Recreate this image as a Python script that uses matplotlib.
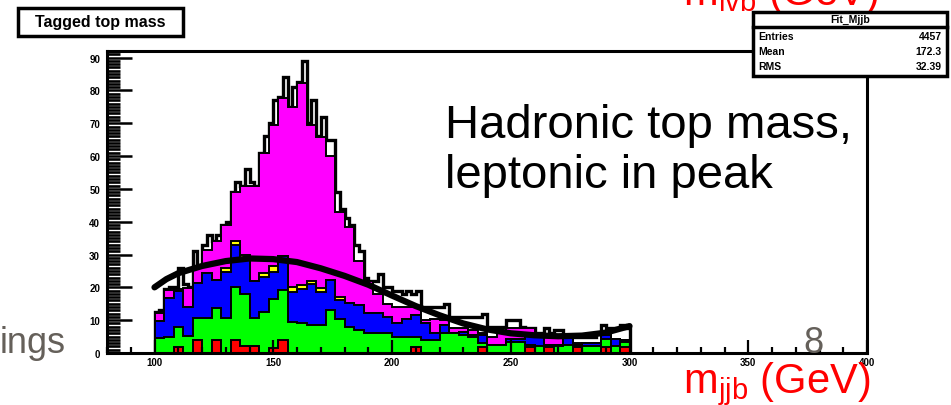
import numpy as np
import matplotlib.pyplot as plt
from matplotlib.patches import Rectangle
from matplotlib.ticker import MultipleLocator

plt.rcParams['font.family'] = ['Liberation Sans', 'DejaVu Sans']
plt.rcParams['mathtext.fontset'] = 'custom'
plt.rcParams['mathtext.rm'] = 'Liberation Sans'

# 4 GeV bins from 100 to 300, cumulative layers (each includes the ones below)
red = [0, 0, 1.9, 0, 3.9, 0, 3.9, 0, 3.9, 2.0,
       2.0, 0, 1.5, 3.9, 0, 0, 0, 0, 0, 0,
       0, 0, 0, 0, 0, 0, 0, 1.9, 0, 0,
       0, 0, 0, 0, 1.9, 0, 0, 0, 0, 1.9,
       0, 1.9, 0, 0, 1.9, 0, 0, 1.9, 0, 1.9]
green = [4.5, 5.0, 8.0, 5.3, 10.8, 10.8, 13.6, 10.6, 20.2, 18.0,
         10.6, 12.5, 16.5, 19.2, 9.5, 9.0, 8.5, 8.5, 13.0, 10.5,
         8.0, 7.0, 6.0, 6.0, 6.0, 5.0, 5.0, 5.0, 4.0, 4.0,
         6.0, 6.0, 5.5, 5.0, 3.0, 2.5, 2.5, 3.5, 3.5, 2.5,
         2.0, 2.0, 2.0, 2.5, 2.0, 2.2, 2.2, 4.4, 2.0, 3.5]
blue = [9.6, 16.7, 19.0, 14.1, 21.3, 24.3, 22.3, 24.8, 32.8, 28.9,
        22.0, 23.3, 24.6, 29.4, 18.5, 19.5, 21.0, 18.7, 22.3, 16.0,
        15.2, 14.7, 12.2, 12.2, 11.1, 9.1, 10.5, 11.6, 9.1, 6.0,
        8.6, 6.0, 6.5, 5.5, 5.5, 2.5, 2.5, 4.4, 4.4, 5.5,
        5.5, 2.4, 2.4, 4.9, 2.4, 2.9, 2.9, 5.5, 4.2, 4.0]
yellow = [9.6, 16.7, 19.0, 14.1, 21.3, 24.3, 22.3, 25.8, 34.0, 29.9,
          22.0, 24.3, 26.6, 29.4, 20.2, 20.7, 22.0, 19.7, 22.3, 17.2,
          15.2, 14.7, 12.2, 12.2, 11.1, 9.1, 10.5, 11.6, 9.1, 6.0,
          8.6, 6.0, 6.5, 5.5, 5.5, 2.5, 2.5, 4.4, 4.4, 5.5,
          5.5, 2.4, 2.4, 4.9, 2.4, 2.9, 2.9, 5.5, 4.2, 4.0]
magenta = [12.1, 19.2, 19.5, 19.7, 26.0, 31.4, 34.0, 39.0, 49.0, 51.0,
           51.0, 61.0, 69.5, 77.6, 75.0, 82.2, 69.5, 65.9, 60.0, 43.0,
           38.5, 28.0, 22.0, 18.0, 15.0, 14.0, 14.0, 14.0, 10.0, 10.5,
           10.0, 7.5, 7.5, 7.0, 6.0, 5.0, 6.0, 7.5, 7.5, 7.5,
           6.0, 5.0, 4.5, 5.0, 3.0, 3.0, 3.0, 5.5, 4.2, 4.0]

# total, 2 GeV bins from 100 to 300
total = [12.5, 13, 19.5, 20, 20, 26, 21, 20, 31, 26,
         33, 36, 34, 36, 39, 40, 49, 52, 51, 56,
         52, 51, 61, 66, 70, 77, 78, 84, 75, 81,
         82.5, 89, 70, 77, 66, 72, 65, 65, 49, 44,
         41, 39, 33, 31, 23, 22, 22, 24, 20, 20,
         19, 19, 18, 19, 18, 19, 14, 14, 14, 14,
         14, 15, 11, 11, 11, 11, 11, 11, 11, 12,
         8, 8, 8, 8, 10, 10, 10, 8, 7.5, 7.5,
         6, 6, 7.5, 6, 7, 7, 5, 5, 5, 5,
         5, 5, 5, 6, 8.5, 7.5, 7.5, 7.5, 8.5, 7.5]

# background fit curve
fit_x = [100, 105, 110, 120, 130, 140, 150, 160, 170, 180, 190,
         200, 210, 220, 230, 240, 250, 260, 270, 280, 290, 300]
fit_y = [20.0, 22.5, 24.3, 26.5, 28.0, 28.8, 28.6, 27.7, 25.8, 23.5, 20.8,
         17.5, 14.3, 11.5, 9.0, 7.2, 6.0, 5.4, 5.1, 5.3, 6.2, 8.2]

stats = [("Entries", "4457"), ("Mean", "172.3"), ("RMS", "32.39")]

W, H = 951, 406
fig = plt.figure(figsize=(W / 100, H / 100), dpi=100)
ax = fig.add_axes([107 / W, 1 - 354 / H, 760 / W, 302 / H])

edges4 = np.linspace(100, 300, len(magenta) + 1)
edges2 = np.linspace(100, 300, len(total) + 1)

ax.stairs(total, edges2, baseline=0, color='black', lw=2.4)
for vals, col in [(magenta, '#ff00ff'), (yellow, '#ffff00'), (blue, '#0000ff'),
                  (green, '#00ff00'), (red, '#ff0000')]:
    ax.stairs(vals, edges4, baseline=0, fill=True, facecolor=col,
              edgecolor='black', lw=1.4)
ax.plot(fit_x, fit_y, color='black', lw=4.5, solid_capstyle='round')

ax.set_xlim(80, 400)
ax.set_ylim(0, 92)
ax.xaxis.set_major_locator(MultipleLocator(50))
ax.xaxis.set_minor_locator(MultipleLocator(10))
ax.yaxis.set_major_locator(MultipleLocator(10))
ax.yaxis.set_minor_locator(MultipleLocator(1))
ax.tick_params(axis='x', which='major', direction='in', length=9.5, width=1.6,
               labelsize=7, pad=3)
ax.tick_params(axis='x', which='minor', direction='in', length=4.5, width=1.6)
ax.tick_params(axis='y', which='major', direction='in', length=18, width=1.8,
               labelsize=7, pad=5)
ax.tick_params(axis='y', which='minor', direction='in', length=9, width=1.9)
for lbl in ax.get_xticklabels() + ax.get_yticklabels():
    lbl.set_fontweight('bold')
for s in ax.spines.values():
    s.set_linewidth(2.2)

# ROOT title box
fig.add_artist(Rectangle((18 / W, 1 - 37 / H), 165 / W, 28 / H, transform=fig.transFigure,
                         facecolor='white', edgecolor='black', lw=2.5, zorder=5))
fig.text(100 / W, 1 - 23 / H, "Tagged top mass", ha='center', va='center',
         fontsize=11.5, fontweight='bold', zorder=6)

# red axis labels from the slide
fig.text(683 / W, 1 - 5 / H, r'm$_{\mathrm{lvb}}$ (GeV)', color='red', fontsize=30,
         va='baseline', zorder=4)
fig.text(683 / W, 1 - 393 / H, r'm$_{\mathrm{jjb}}$ (GeV)', color='red', fontsize=30,
         va='baseline', zorder=4)

# stats box
fig.add_artist(Rectangle((753 / W, 1 - 77 / H), 194 / W, 64 / H, transform=fig.transFigure,
                         facecolor='white', edgecolor='black', lw=2.5, zorder=5))
fig.add_artist(plt.Line2D([753 / W, 947 / W], [1 - 28 / H, 1 - 28 / H],
                          transform=fig.transFigure, color='black', lw=2.5, zorder=6))
fig.text(850 / W, 1 - 20 / H, "Fit_Mjjb", ha='center', va='center', fontsize=7.5,
         fontweight='bold', zorder=7)
for i, (name, val) in enumerate(stats):
    yy = 1 - (37 + 15 * i) / H
    fig.text(758 / W, yy, name, ha='left', va='center', fontsize=7.5,
             fontweight='bold', zorder=7)
    fig.text(942 / W, yy, val, ha='right', va='center', fontsize=7.5,
             fontweight='bold', zorder=7)

# slide text
fig.text(445 / W, 1 - 138 / H, "Hadronic top mass,", fontsize=34, va='baseline')
fig.text(445 / W, 1 - 188 / H, "leptonic in peak", fontsize=34, va='baseline')
fig.text(0.0, 1 - 353 / H, "ings", fontsize=26, color='#65605a', va='baseline')
fig.text(803 / W, 1 - 353 / H, "8", fontsize=26, color='#65605a', va='baseline')

fig.savefig('out.png', dpi=100)
